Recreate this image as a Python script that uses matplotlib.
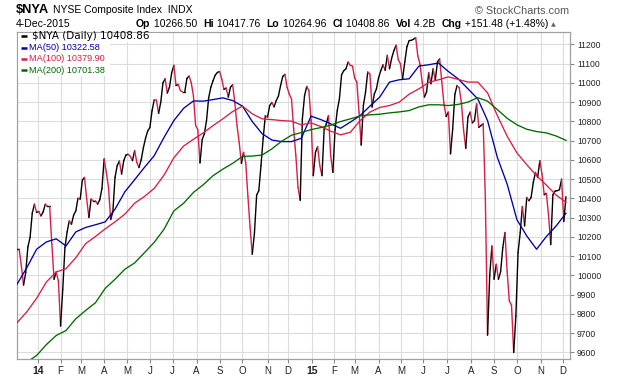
import numpy as np
import pandas as pd
import matplotlib
matplotlib.use("Agg")
import matplotlib.pyplot as plt
from matplotlib.collections import LineCollection
from matplotlib.lines import Line2D
from matplotlib.patches import Rectangle

# exchange holidays in the window (the x axis runs on trading sessions only)
holidays = ["2013-12-25", "2014-01-01", "2014-01-20", "2014-02-17", "2014-04-18",
            "2014-05-26", "2014-07-04", "2014-09-01", "2014-11-27", "2014-12-25",
            "2015-01-01", "2015-01-19", "2015-02-16", "2015-04-03", "2015-05-25",
            "2015-07-03", "2015-09-07", "2015-11-26"]
first_day, last_day = "2013-12-05", "2015-12-04"

# $NYA close, every 2nd session up to 4-Dec-2015
close = [10136, 10136, 10049, 9950, 10014, 10148, 10197, 10323, 10370, 10327,
         10332, 10309, 10330, 10370, 10358, 10358, 10162, 9980, 10018, 9971,
         9737, 9927, 10144, 10226, 10283, 10266, 10313, 10335, 10401, 10396,
         10495, 10509, 10396, 10301, 10396, 10388, 10388, 10370, 10393, 10452,
         10605, 10535, 10457, 10290, 10330, 10509, 10570, 10594, 10526, 10596,
         10625, 10629, 10618, 10596, 10648, 10587, 10560, 10600, 10662, 10712,
         10750, 10768, 10856, 10912, 10910, 10841, 10900, 11000, 11021, 10947,
         10978, 11052, 11091, 10986, 10992, 10960, 10952, 10952, 11023, 11035,
         11000, 10931, 10778, 10757, 10584, 10705, 10735, 10804, 10924, 10978,
         11011, 11040, 11054, 11059, 11019, 10966, 10973, 10926, 10978, 10990,
         10896, 10778, 10691, 10582, 10639, 10585, 10410, 10249, 10110, 10220,
         10417, 10440, 10570, 10712, 10830, 10822, 10882, 10898, 10875, 10908,
         10931, 10986, 11033, 11044, 10976, 10941, 10917, 10761, 10622, 10457,
         10390, 10813, 10934, 10981, 10959, 10804, 10518, 10639, 10669, 10570,
         10518, 10761, 10787, 10830, 10620, 10535, 10757, 10856, 10917, 11042,
         11063, 11073, 11108, 11091, 11087, 11025, 11004, 10848, 10677, 10882,
         10952, 11056, 11045, 10874, 10941, 10969, 11028, 11063, 11094, 11065,
         11143, 11073, 11129, 11167, 11195, 11122, 11099, 11021, 11108, 11188,
         11219, 11221, 11226, 11235, 11139, 11096, 11004, 10926, 10952, 11052,
         10995, 11073, 11013, 11108, 11125, 11007, 10889, 10825, 10848, 10631,
         10761, 10940, 10986, 10974, 10896, 10755, 10660, 10822, 10848, 10792,
         10804, 10891, 10769, 10778, 10787, 10396, 9690, 10000, 10153, 9980,
         10058, 9980, 10019, 10144, 10223, 10019, 9867, 9846, 9600, 9789,
         10118, 10223, 10358, 10257, 10405, 10388, 10405, 10483, 10535, 10509,
         10596, 10526, 10419, 10426, 10313, 10160, 10419, 10438, 10440, 10445,
         10500, 10280, 10408.86]

# moving averages, every 9th session up to 4-Dec-2015
ma50 = [9954, 10040, 10136, 10174, 10190, 10153, 10226, 10249, 10263, 10278,
        10344, 10434, 10497, 10561, 10622, 10717, 10804, 10868, 10906, 10905,
        10913, 10922, 10908, 10879, 10799, 10736, 10703, 10695, 10695, 10712,
        10827, 10809, 10787, 10764, 10796, 10830, 10879, 10926, 11004, 11016,
        11021, 11087, 11094, 11103, 11059, 11021, 10969, 10917, 10804, 10613,
        10474, 10289, 10205, 10136, 10202, 10257, 10322.58]
ma100 = [9754, 9811, 9881, 9966, 10018, 10035, 10092, 10165, 10202, 10242,
         10278, 10318, 10375, 10410, 10452, 10521, 10611, 10672, 10707, 10740,
         10778, 10813, 10851, 10879, 10839, 10813, 10809, 10804, 10801, 10782,
         10792, 10773, 10749, 10730, 10743, 10804, 10848, 10872, 10882, 10900,
         10941, 10969, 11002, 11016, 11031, 11018, 11004, 11004, 10948, 10830,
         10723, 10636, 10575, 10518, 10469, 10417, 10379.90]
ma200 = [np.nan, 9550, 9584, 9641, 9688, 9714, 9775, 9818, 9858, 9933,
         9980, 10032, 10065, 10118, 10172, 10240, 10335, 10375, 10431, 10471,
         10518, 10552, 10582, 10618, 10620, 10625, 10657, 10697, 10728, 10742,
         10757, 10768, 10780, 10799, 10813, 10828, 10834, 10837, 10844, 10849,
         10856, 10875, 10886, 10886, 10882, 10888, 10900, 10923, 10905, 10861,
         10816, 10782, 10759, 10747, 10740, 10724, 10701.38]

days = pd.date_range(first_day, last_day, freq="B")
days = days[~days.isin(pd.to_datetime(holidays))]
pos = np.arange(len(days))
# sample positions counted back from the last session
xc = pos[-1] - 2 * np.arange(len(close))[::-1]
xm = pos[-1] - 9 * np.arange(len(ma50))[::-1]

RED = "#d81e44"
BLUE = "#0000a8"
GREEN = "#006a00"
W, H = 620, 376


def fx(px):
    return px / W


def fy(py):
    return 1 - py / H


fig = plt.figure(figsize=(6.2, 3.76), dpi=100)
ax = fig.add_axes([fx(17), fy(359), 553 / W, 327 / H])

# price line: black on up moves, red on down moves
pts = np.column_stack([xc, close])
segs = np.stack([pts[:-1], pts[1:]], axis=1)
cols = np.where(np.diff(close) >= 0, "black", RED)
ax.add_collection(LineCollection(segs, colors=cols, linewidths=1.0, zorder=3,
                                 joinstyle="round", capstyle="round"))

ax.plot(xm, ma50, color=BLUE, lw=0.95, zorder=4)
ax.plot(xm, ma100, color=RED, lw=0.95, zorder=4)
ax.plot(xm, ma200, color=GREEN, lw=0.95, zorder=4)

ax.set_xlim(xc[0], xc[0] + 507.7)
ax.set_ylim(9566, 11264)

# month ticks at first session of each month
month_start = [i for i in range(1, len(days)) if days[i].month != days[i - 1].month]
labels = []
for i in month_start:
    d = days[i]
    labels.append(d.strftime("%y") if d.month == 1 else d.strftime("%b")[0])
ax.set_xticks(month_start)
ax.set_xticklabels(labels, family="Liberation Sans", fontsize=7)
for t, i in zip(ax.get_xticklabels(), month_start):
    if days[i].month == 1:
        t.set_fontweight("bold")
        t.set_fontsize(7.5)

yt = np.arange(9600, 11201, 100)
ax.set_yticks(yt)
ax.set_yticklabels([str(v) for v in yt], family="Liberation Sans", fontsize=6.2)
ax.yaxis.tick_right()
ax.tick_params(axis="both", length=3, color="#888888", labelcolor="#222222")
ax.tick_params(axis="x", pad=2)
ax.tick_params(axis="y", pad=2)
ax.grid(True, color="#dcdcdc", lw=0.8)
ax.set_axisbelow(True)
for s in ax.spines.values():
    s.set_color("#a0a0a0")
    s.set_linewidth(0.9)

# legend block (white behind the text, as on StockCharts)
fig.add_artist(Rectangle((fx(17.6), fy(41.5)), 140 / W, 9 / H, transform=fig.transFigure,
                         facecolor="white", edgecolor="none", zorder=5))
fig.add_artist(Rectangle((fx(17.6), fy(76)), 92 / W, 34.5 / H, transform=fig.transFigure,
                         facecolor="white", edgecolor="none", zorder=5))
legend_rows = [("$NYA (Daily) 10408.86", "black", "DejaVu Sans", 7.5, 31.5),
               ("MA(50) 10322.58", BLUE, "Liberation Sans", 6.6, 29.3),
               ("MA(100) 10379.90", RED, "Liberation Sans", 6.6, 29.3),
               ("MA(200) 10701.38", GREEN, "Liberation Sans", 6.6, 29.3)]
for n, (txt, c, fam, fs, tx) in enumerate(legend_rows):
    yy = 36.2 + 11.3 * n
    fig.add_artist(Line2D([fx(20.8), fx(27)], [fy(yy), fy(yy)], transform=fig.transFigure,
                          color=c, lw=1.8, solid_capstyle="butt", zorder=6))
    fig.text(fx(tx), fy(yy), txt, color=c, family=fam, fontsize=fs,
             va="center", zorder=6)

# header
fig.text(fx(16), fy(13.3), "$NYA", fontsize=9.3, fontweight="bold",
         family="Liberation Sans", va="baseline")
fig.text(fx(53), fy(13.3), "NYSE Composite Index  INDX", fontsize=7.5,
         family="Liberation Sans", va="baseline")
fig.text(fx(569), fy(14.5), "\u00a9 StockCharts.com", fontsize=7.8,
         family="Liberation Sans", color="#555555", ha="right", va="baseline")
fig.text(fx(16), fy(27), "4-Dec-2015", fontsize=7.5,
         family="Liberation Sans", va="baseline")

parts = [("Op", "bold"), (" 10266.50  ", "normal"), ("Hi", "bold"), (" 10417.76  ", "normal"),
         ("Lo", "bold"), (" 10264.96  ", "normal"), ("Cl", "bold"), (" 10408.86  ", "normal"),
         ("Vol", "bold"), (" 4.2B  ", "normal"), ("Chg", "bold"), (" +151.48 (+1.48%)", "normal")]
r = fig.canvas.get_renderer()
x = 136
for s, w in parts:
    t = fig.text(fx(x), fy(27), s, fontsize=7.5, fontweight=w,
                 family="Liberation Sans", va="baseline")
    x += t.get_window_extent(r).width + 0.4
fig.text(fx(x + 2), fy(26), "\u25b2", fontsize=4.5, color="#666666",
         family="DejaVu Sans", va="baseline")

fig.savefig("out.png", dpi=100)
